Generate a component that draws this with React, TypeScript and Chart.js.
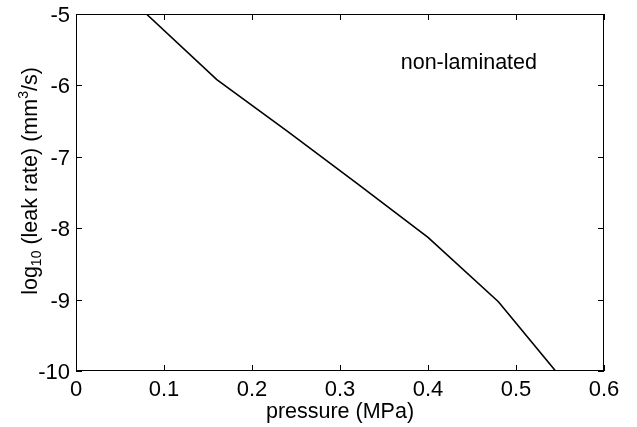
import React, { useEffect, useRef } from "react";
import { Chart, registerables } from "chart.js";

Chart.register(...registerables);

// Data
const pressure = [0.08, 0.16, 0.24, 0.32, 0.40, 0.48, 0.545];
const logLeak = [-5.0, -5.92, -6.64, -7.38, -8.13, -9.03, -10.0];

const xTicksMin = 0;
const xTicksMax = 0.6;
const xStep = 0.1;
const yTicksMin = -10;
const yTicksMax = -5;
const yStep = 1;

const xTitle = "pressure (MPa)";
const annotationText = "non-laminated";
const annotationAt = { x: 0.369, y: -5.77 };

const FONT = '"Liberation Sans", Arial, Helvetica, sans-serif';

const framePlugin = {
  id: "matlabFrame",
  afterDraw(chart: any) {
    const { ctx, chartArea, scales } = chart;
    const { left, right, top, bottom } = chartArea;
    const xs = scales.x;
    const ys = scales.y;
    ctx.save();
    ctx.strokeStyle = "#000";
    ctx.lineWidth = 1;
    // frame
    ctx.strokeRect(left + 0.5, top + 0.5, right - left - 1, bottom - top - 1);
    const tl = 6;
    ctx.beginPath();
    xs.ticks.forEach((t: any) => {
      const px = Math.round(xs.getPixelForValue(t.value)) + 0.5;
      ctx.moveTo(px, bottom);
      ctx.lineTo(px, bottom - tl);
      ctx.moveTo(px, top);
      ctx.lineTo(px, top + tl);
    });
    ys.ticks.forEach((t: any) => {
      const py = Math.round(ys.getPixelForValue(t.value)) + 0.5;
      ctx.moveTo(left, py);
      ctx.lineTo(left + tl, py);
      ctx.moveTo(right, py);
      ctx.lineTo(right - tl, py);
    });
    ctx.stroke();

    // tick labels
    ctx.fillStyle = "#000";
    ctx.font = `22px ${FONT}`;
    ctx.textAlign = "center";
    ctx.textBaseline = "alphabetic";
    xs.ticks.forEach((t: any) => {
      const px = xs.getPixelForValue(t.value);
      const label = String(Number(t.value.toFixed(1)));
      ctx.fillText(label, px, bottom + 25);
    });
    ctx.textAlign = "right";
    ctx.textBaseline = "middle";
    ys.ticks.forEach((t: any) => {
      const py = ys.getPixelForValue(t.value);
      const label = String(Number(t.value.toFixed(0)));
      ctx.fillText(label, left - 6, py + 2);
    });

    // x title
    ctx.textAlign = "center";
    ctx.textBaseline = "alphabetic";
    ctx.font = `21.5px ${FONT}`;
    ctx.fillText(xTitle, (left + right) / 2, bottom + 47);

    // y title with subscript / superscript
    const big = `21.5px ${FONT}`;
    const small = `14px ${FONT}`;
    const parts: { t: string; f: string; dy: number }[] = [
      { t: "log", f: big, dy: 0 },
      { t: "10", f: small, dy: 4 },
      { t: " (leak rate) (mm", f: big, dy: 0 },
      { t: "3", f: small, dy: -9 },
      { t: "/s)", f: big, dy: 0 },
    ];
    let total = 0;
    parts.forEach((p) => {
      ctx.font = p.f;
      total += ctx.measureText(p.t).width;
    });
    ctx.save();
    ctx.translate(37, 181);
    ctx.rotate(-Math.PI / 2);
    ctx.textAlign = "left";
    ctx.textBaseline = "alphabetic";
    let cx = -total / 2;
    parts.forEach((p) => {
      ctx.font = p.f;
      ctx.fillText(p.t, cx, p.dy);
      cx += ctx.measureText(p.t).width;
    });
    ctx.restore();

    // annotation
    ctx.font = `21.5px ${FONT}`;
    ctx.textAlign = "left";
    ctx.textBaseline = "alphabetic";
    ctx.fillText(
      annotationText,
      xs.getPixelForValue(annotationAt.x),
      ys.getPixelForValue(annotationAt.y)
    );
    ctx.restore();
  },
};

export default function App() {
  const ref = useRef<HTMLCanvasElement | null>(null);
  useEffect(() => {
    document.body.style.margin = "0";
    const canvas = ref.current;
    if (!canvas) return;
    const chart = new Chart(canvas, {
      type: "line",
      data: {
        datasets: [
          {
            data: pressure.map((x, i) => ({ x, y: logLeak[i] })),
            borderColor: "#000",
            borderWidth: 1.6,
            pointRadius: 0,
            tension: 0,
            fill: false,
          },
        ],
      },
      options: {
        responsive: false,
        animation: false,
        devicePixelRatio: 1,
        layout: { padding: { left: 0, top: 14, right: 33, bottom: 0 } },
        plugins: {
          legend: { display: false },
          tooltip: { enabled: false },
        },
        scales: {
          x: {
            type: "linear",
            min: xTicksMin,
            max: xTicksMax,
            ticks: { stepSize: xStep, display: false },
            grid: { display: false },
            border: { display: false },
            afterFit: (s: any) => {
              s.height = 56;
            },
          },
          y: {
            type: "linear",
            min: yTicksMin,
            max: yTicksMax,
            ticks: { stepSize: yStep, display: false },
            grid: { display: false },
            border: { display: false },
            afterFit: (s: any) => {
              s.width = 76;
            },
          },
        },
      } as any,
      plugins: [framePlugin],
    });
    return () => chart.destroy();
  }, []);
  return (
    <div style={{ width: 637, height: 427, background: "#fff" }}>
      <canvas ref={ref} width={637} height={427} style={{ display: "block" }} />
    </div>
  );
}
